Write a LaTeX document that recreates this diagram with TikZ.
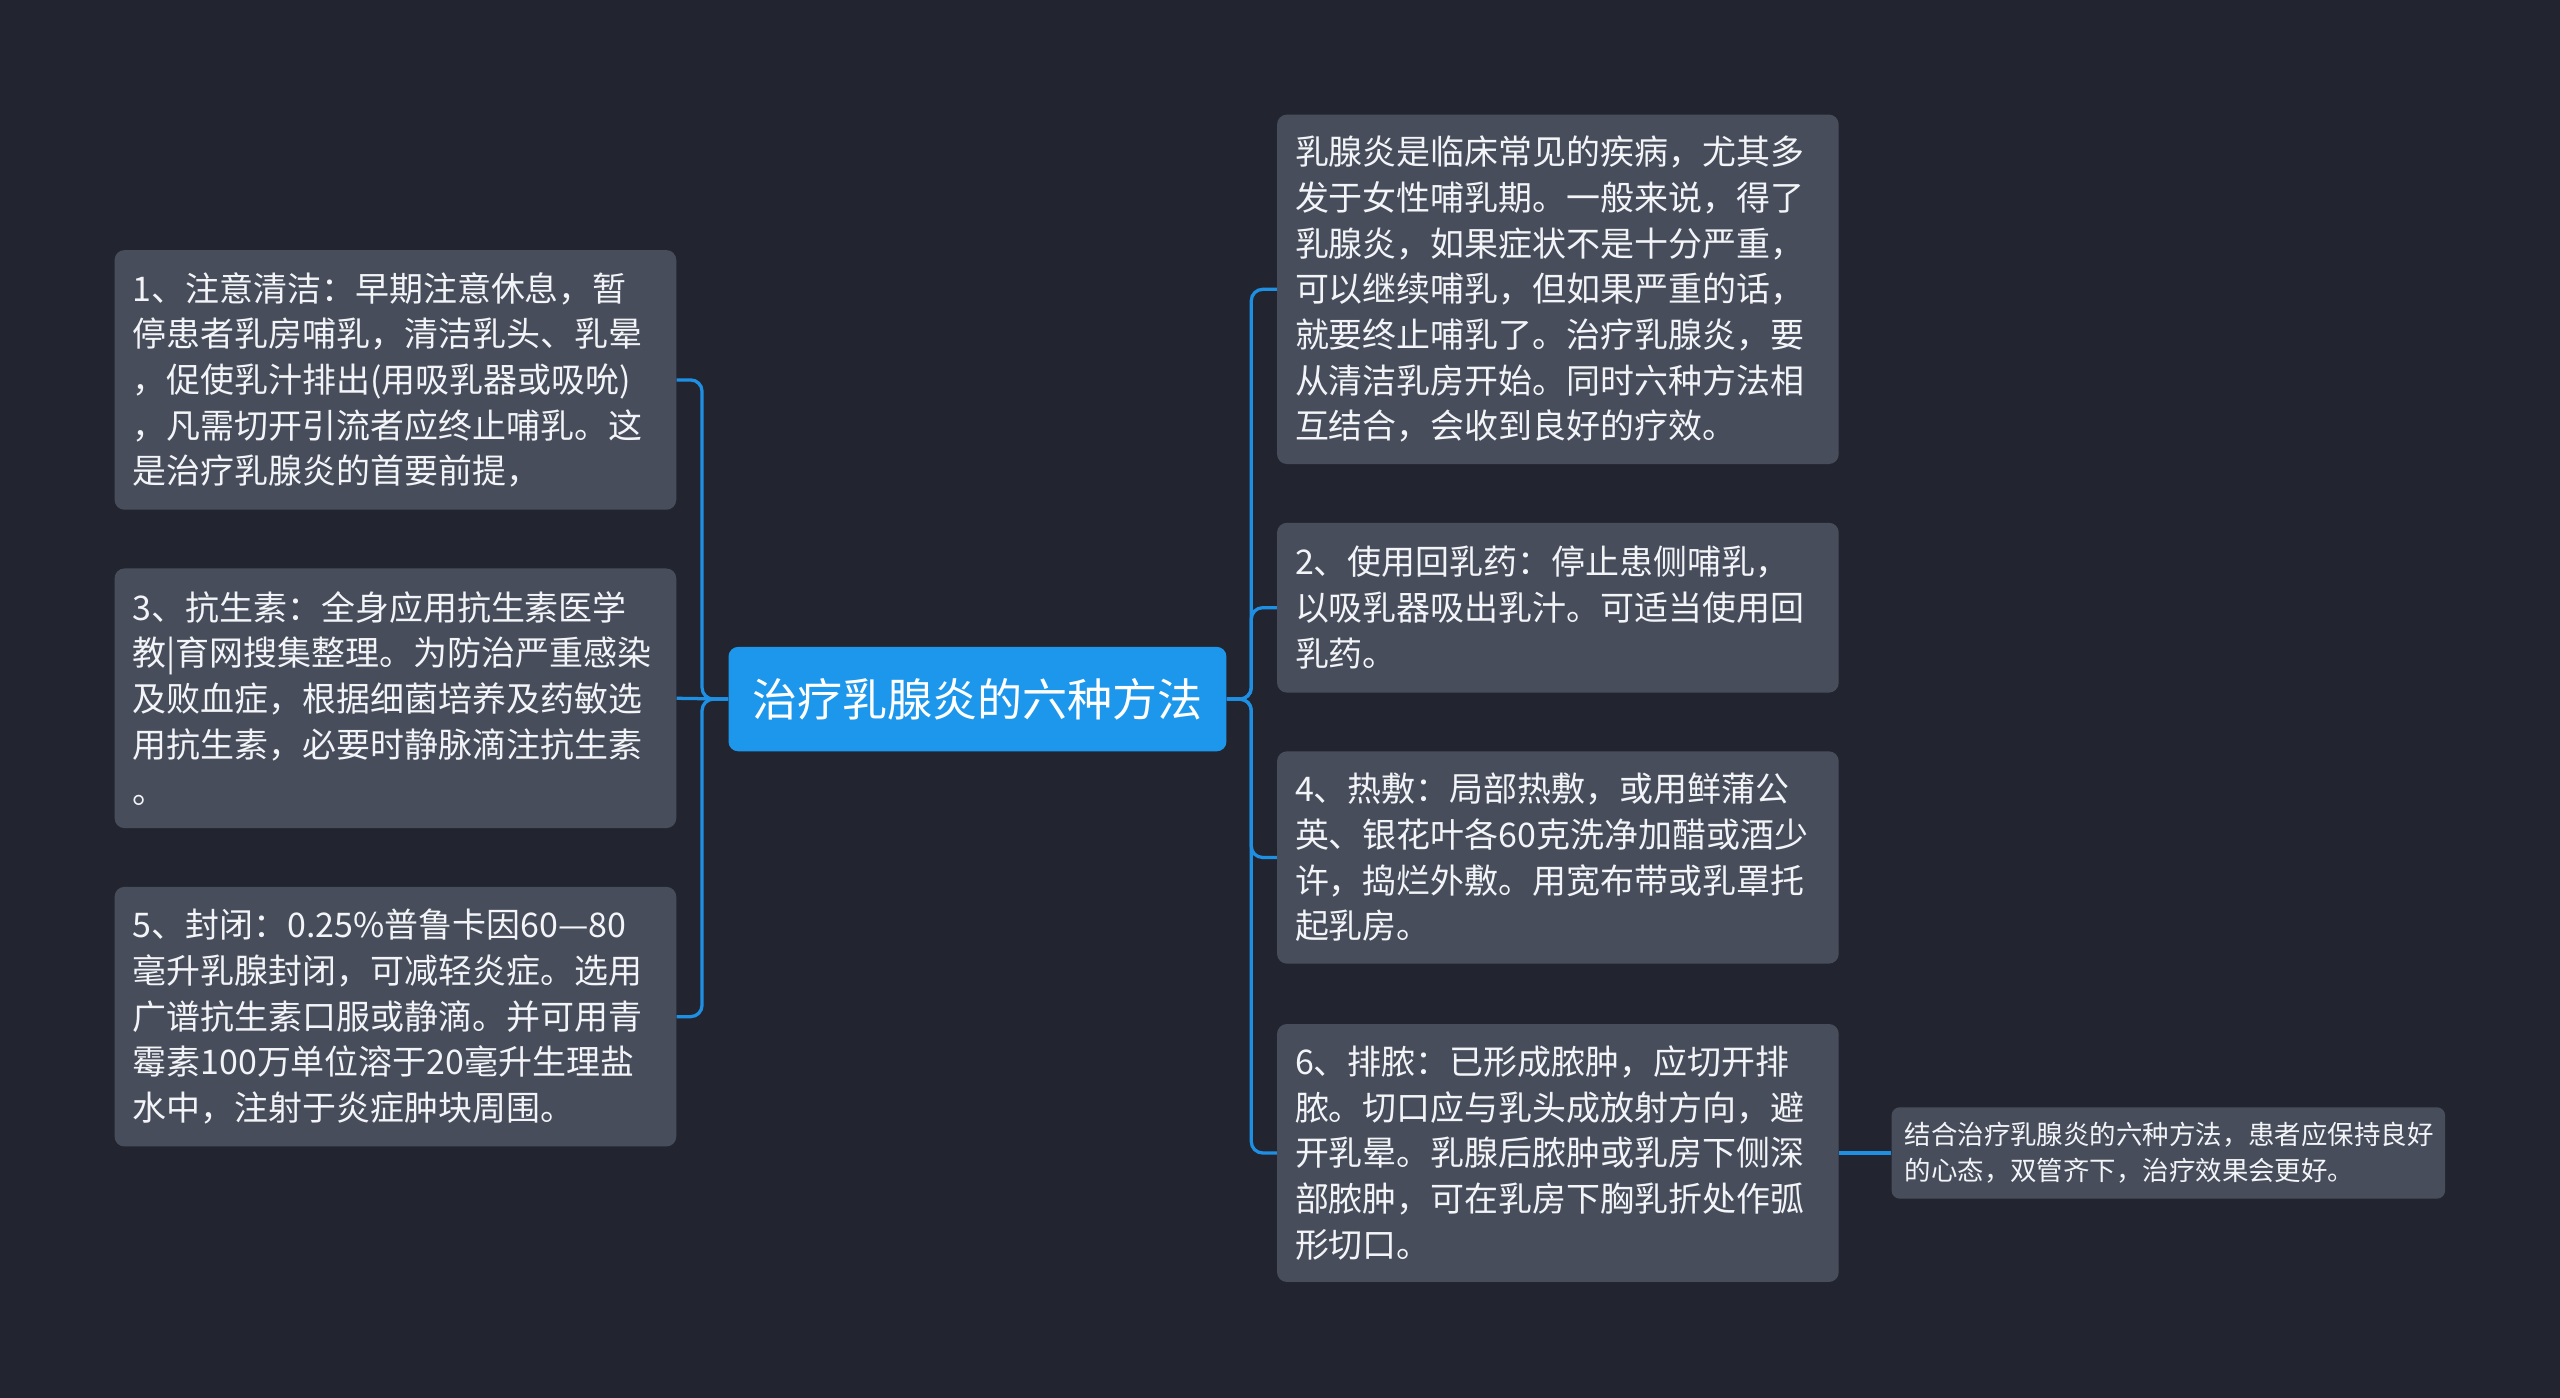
\documentclass[tikz,border=0pt]{standalone}
\usepackage{fontspec}
\setmainfont{Noto Sans CJK SC}
\definecolor{bgc}{HTML}{22252F}
\definecolor{boxc}{HTML}{474D5B}
\definecolor{rootc}{HTML}{1D97EC}
\definecolor{linec}{HTML}{1E8FE3}
\definecolor{txtc}{HTML}{F2F4F7}
\tikzset{
  box/.style={fill=boxc, rounded corners=6pt, anchor=north west, inner xsep=11pt, inner ysep=0pt,
    align=left, text=txtc, font=\fontsize{20.8}{28}\selectfont},
  rootbox/.style={fill=rootc, rounded corners=6pt, anchor=north west, inner sep=0pt,
    text=white, font=\fontsize{27.6}{32}\selectfont},
  smallbox/.style={fill=boxc, rounded corners=5pt, anchor=west, inner xsep=8pt, inner ysep=0pt,
    align=left, text=txtc, font=\fontsize{16.2}{22}\selectfont},
  conn/.style={draw=linec, line width=2pt, rounded corners=7pt}
}
\begin{document}
\begin{tikzpicture}[x=1pt,y=-1pt]
\fill[bgc] (0,0) rectangle (1568,856);
\useasboundingbox (0,0) rectangle (1568,856);

\node[rootbox, minimum width=305pt, minimum height=64pt] (root) at (446,396) {治疗乳腺炎的六种方法};

\node[box, minimum width=344pt, minimum height=159pt, text width=322pt] (l1) at (70,153)
 {1、注意清洁：早期注意休息，暂\\停患者乳房哺乳，清洁乳头、乳晕\\，促使乳汁排出(用吸乳器或吸吮)\\，凡需切开引流者应终止哺乳。这\\是治疗乳腺炎的首要前提，};
\node[box, minimum width=344pt, minimum height=159pt, text width=322pt] (l2) at (70,348)
 {3、抗生素：全身应用抗生素医学\\教|育网搜集整理。为防治严重感染\\及败血症，根据细菌培养及药敏选\\用抗生素，必要时静脉滴注抗生素\\。};
\node[box, minimum width=344pt, minimum height=159pt, text width=322pt] (l3) at (70,543)
 {5、封闭：0.25\%普鲁卡因60—80\\毫升乳腺封闭，可减轻炎症。选用\\广谱抗生素口服或静滴。并可用青\\霉素100万单位溶于20毫升生理盐\\水中，注射于炎症肿块周围。};

\node[box, minimum width=344pt, minimum height=214pt, text width=322pt] (r1) at (782,70)
 {乳腺炎是临床常见的疾病，尤其多\\发于女性哺乳期。一般来说，得了\\乳腺炎，如果症状不是十分严重，\\可以继续哺乳，但如果严重的话，\\就要终止哺乳了。治疗乳腺炎，要\\从清洁乳房开始。同时六种方法相\\互结合，会收到良好的疗效。};
\node[box, minimum width=344pt, minimum height=104pt, text width=322pt] (r2) at (782,320)
 {2、使用回乳药：停止患侧哺乳，\\以吸乳器吸出乳汁。可适当使用回\\乳药。};
\node[box, minimum width=344pt, minimum height=130pt, text width=322pt] (r3) at (782,460)
 {4、热敷：局部热敷，或用鲜蒲公\\英、银花叶各60克洗净加醋或酒少\\许，捣烂外敷。用宽布带或乳罩托\\起乳房。};
\node[box, minimum width=344pt, minimum height=158pt, text width=322pt] (r4) at (782,627)
 {6、排脓：已形成脓肿，应切开排\\脓。切口应与乳头成放射方向，避\\开乳晕。乳腺后脓肿或乳房下侧深\\部脓肿，可在乳房下胸乳折处作弧\\形切口。};

\node[smallbox, minimum width=339pt, minimum height=56pt, text width=323pt] (r5) at ([xshift=32pt]r4.east)
 {结合治疗乳腺炎的六种方法，患者应保持良好\\的心态，双管齐下，治疗效果会更好。};

\draw[conn] (root.west) -- ++(-16,0) |- (l1.east);
\draw[conn] (root.west) -- (l2.east);
\draw[conn] (root.west) -- ++(-16,0) |- (l3.east);

\draw[conn] (root.east) -- ++(15,0) |- (r1.west);
\draw[conn] (root.east) -- ++(15,0) |- (r2.west);
\draw[conn] (root.east) -- ++(15,0) |- (r3.west);
\draw[conn] (root.east) -- ++(15,0) |- (r4.west);

\draw[conn] (r4.east) -- (r5.west);
\end{tikzpicture}
\end{document}
